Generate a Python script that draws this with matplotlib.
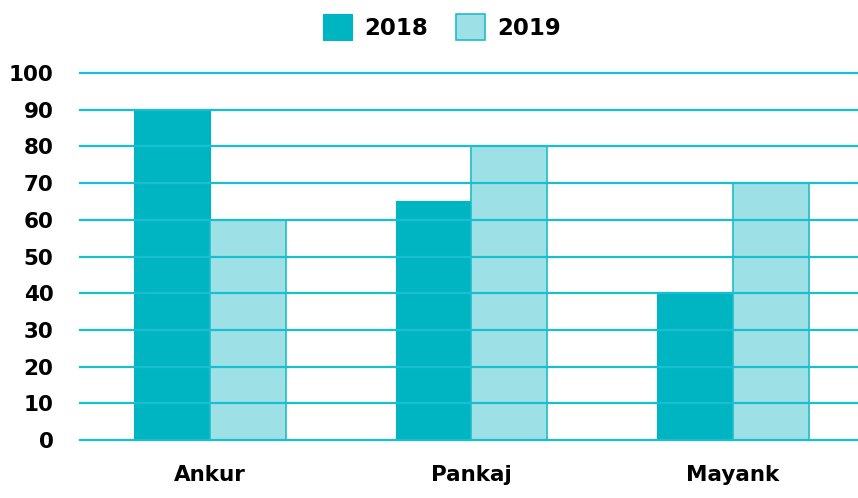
import matplotlib
matplotlib.use("Agg")
import matplotlib.pyplot as plt
import numpy as np

plt.rcParams['font.family'] = ['DejaVu Sans']

categories = ["Ankur", "Pankaj", "Mayank"]
series_names = ["2018", "2019"]
values_2018 = [90, 65, 40]
values_2019 = [60, 80, 70]
yticks = [0, 10, 20, 30, 40, 50, 60, 70, 80, 90, 100]

c2018 = "#00b5c2"
c2019 = "#9de1e6"
edge = "#1fbccb"
grid_c = "#19bfd0"

fig = plt.figure(figsize=(8.58, 4.98), dpi=100)
ax = fig.add_axes([80/858, 1 - 440/498, 778/858, 367/498])

x = np.arange(len(categories))
w = 0.29
ax.bar(x - w/2, values_2018, w, color=c2018, edgecolor=c2018, linewidth=0.8, label=series_names[0], zorder=2)
ax.bar(x + w/2, values_2019, w, color=c2019, edgecolor=edge, linewidth=1.2, label=series_names[1], zorder=2)

ax.set_xlim(-0.497, 2.478)
ax.set_ylim(0, 100)
ax.set_yticks(yticks)
ax.set_yticklabels([str(v) for v in yticks], fontsize=15.5, fontweight='bold')
ax.set_xticks(x)
ax.set_xticklabels(categories, fontsize=15.5, fontweight='bold')
ax.tick_params(axis='y', length=0, pad=19)
ax.tick_params(axis='x', length=0, pad=18)
for y in yticks:
    ax.axhline(y, color=grid_c, linewidth=1.6, zorder=3, clip_on=False)
for s in ax.spines.values():
    s.set_visible(False)

leg = fig.legend(loc='center', bbox_to_anchor=(442/858, 1 - 27/498), ncol=2, frameon=False,
                 prop={'size': 16.5, 'weight': 'bold'}, handlelength=1.27, handleheight=1.31,
                 columnspacing=1.22, handletextpad=0.52)

fig.savefig("out.png", dpi=100)
